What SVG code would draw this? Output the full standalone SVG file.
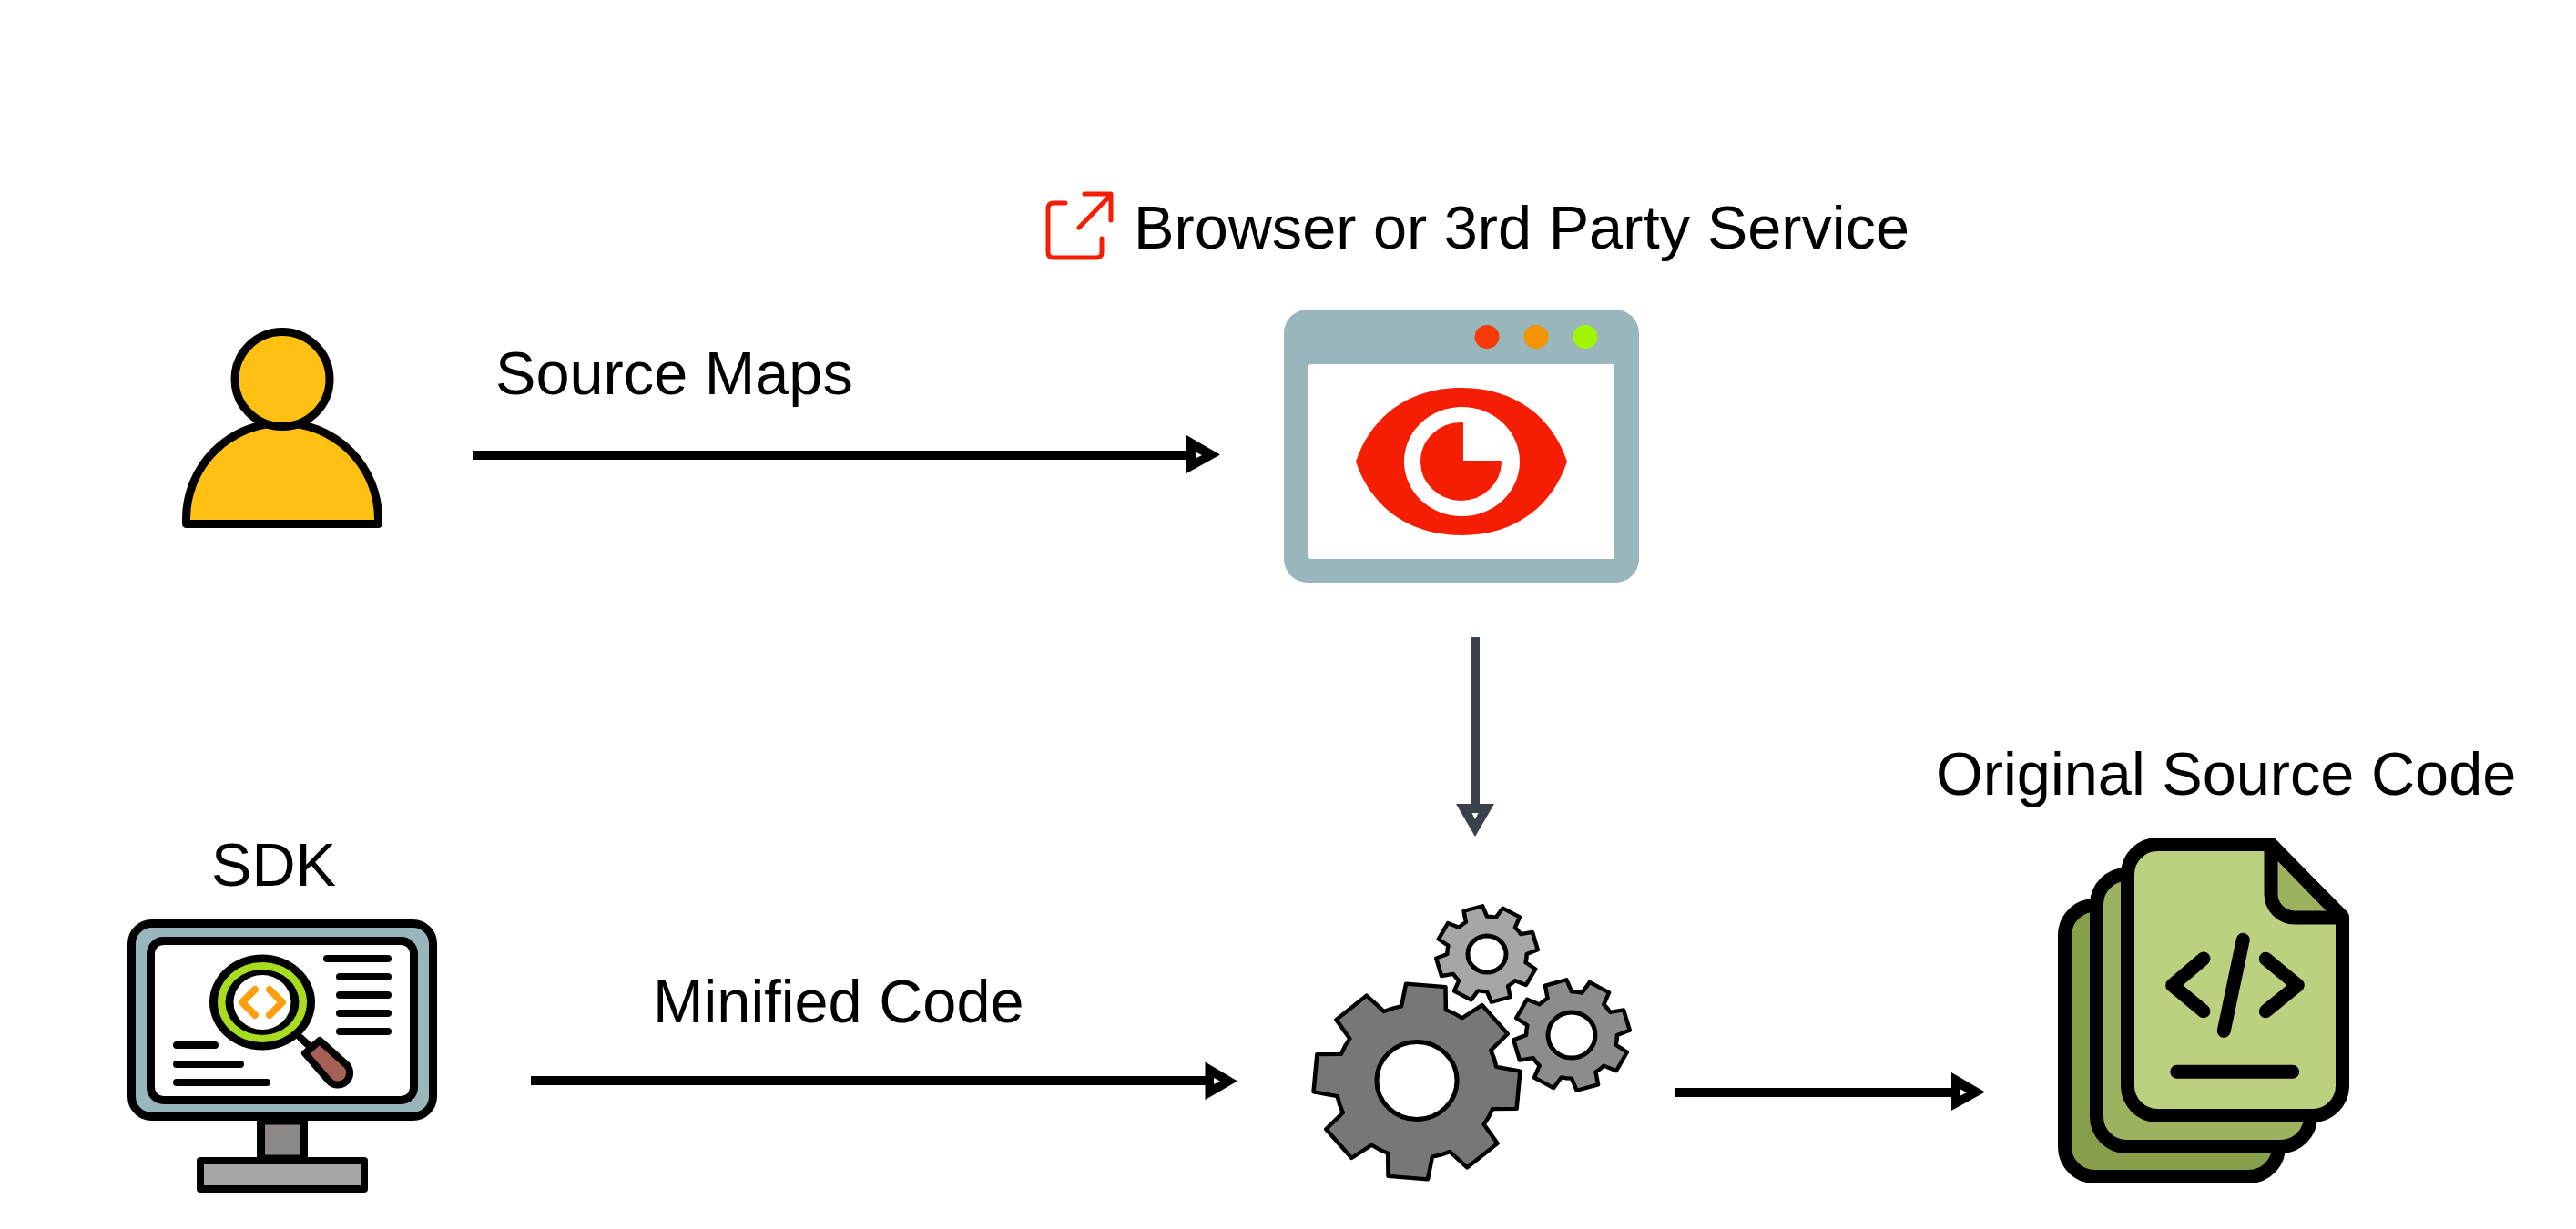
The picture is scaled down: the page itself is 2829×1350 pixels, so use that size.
<svg xmlns="http://www.w3.org/2000/svg" xmlns:xlink="http://www.w3.org/1999/xlink" width="2829" height="1350" viewBox="0 0 2829 1350">
<style>
text{font-family:"Liberation Sans",Arial,sans-serif;font-size:66.67px;fill:#000}
.k{stroke:#000;stroke-linecap:round;stroke-linejoin:round;fill:none}
.gear{stroke:#000;stroke-linejoin:round}
.hole{fill:#fff;stroke:#000;stroke-width:5}
</style>
<defs>
<path id="gearShape" d="M-21.5-75L-19.1-98.2L19.1-98.2L21.5-75A78 78 0 0 1 37.8-68.2L55.9-82.9L82.9-55.9L68.2-37.8A78 78 0 0 1 75-21.5L98.2-19.1L98.2 19.1L75 21.5A78 78 0 0 1 68.2 37.8L82.9 55.9L55.9 82.9L37.8 68.2A78 78 0 0 1 21.5 75L19.1 98.2L-19.1 98.2L-21.5 75A78 78 0 0 1-37.8 68.2L-55.9 82.9L-82.9 55.9L-68.2 37.8A78 78 0 0 1-75 21.5L-98.2 19.1L-98.2-19.1L-75-21.5A78 78 0 0 1-68.2-37.8L-82.9-55.9L-55.9-82.9L-37.8-68.2A78 78 0 0 1-21.5-75Z"/>
</defs>
<rect width="2829" height="1350" fill="#fff"/>
<g id="connectors">
<path d="M520 500H1305" stroke="#000" stroke-width="10"/>
<path d="M1303 478L1340 499.500L1303 520Z M1313 496.500V503.500L1320 500Z" fill="#000" fill-rule="evenodd"/>
<path d="M583 1187H1325" stroke="#000" stroke-width="10"/>
<path d="M1323.500 1166.500L1359 1187.500L1323.500 1208Z M1333 1184V1191L1340 1187.500Z" fill="#000" fill-rule="evenodd"/>
<path d="M1840 1200H2145" stroke="#000" stroke-width="10"/>
<path d="M2143 1178L2180 1199.500L2143 1220Z M2153 1196.500V1203.500L2160 1200Z" fill="#000" fill-rule="evenodd"/>
<path d="M1620 700V885" stroke="#3a414c" stroke-width="10"/>
<path d="M1599 883H1641L1620 919Z M1616.500 893H1623.500L1620 900Z" fill="#3a414c" fill-rule="evenodd"/>
</g>
<g id="user">
<path d="M204.500 575.500V570A105.500 105.500 0 0 1 415.500 570V575.500Z" fill="#ffc014" stroke="#000" stroke-width="9" stroke-linejoin="round"/>
<circle cx="310" cy="416.500" r="52" fill="#ffc014" stroke="#000" stroke-width="9"/>
</g>
<g id="label-source-maps"><text x="544" y="433">Source Maps</text></g>
<g id="service">
<path d="M1170 223H1157Q1151 223 1151 229V277Q1151 283 1157 283H1204Q1210 283 1210 277V262M1191 213H1220V242M1220 214L1185 250" fill="none" stroke="#f51e05" stroke-width="5" stroke-linecap="round" stroke-linejoin="round"/>
<text x="1245" y="273">Browser or 3rd Party Service</text>
<rect x="1410" y="340" width="390" height="300" rx="26" fill="#9ab6bd"/>
<rect x="1437" y="400" width="336" height="214" rx="3" fill="#fff"/>
<ellipse cx="1633" cy="370" rx="13.500" ry="13" fill="#f83a08"/>
<ellipse cx="1687" cy="370" rx="13.500" ry="13" fill="#f59402"/>
<ellipse cx="1741" cy="370" rx="13.500" ry="13" fill="#a2f502"/>
<path d="M1489 507C1505 459 1545 426 1605 426C1665 426 1705 459 1721 507C1705 555 1665 588 1605 588C1545 588 1505 555 1489 507Z" fill="#f51e02"/>
<ellipse cx="1605.500" cy="507" rx="63.500" ry="60" fill="#fff"/>
<path d="M1606 465V507H1648A43.500 42 0 1 1 1606 465Z" fill="#f51e02" stroke="#f51e02" stroke-width="2" stroke-linejoin="round"/>
</g>
<g id="sdk">
<text x="232" y="973">SDK</text>
<rect x="286.500" y="1231" width="47" height="42" fill="#8c8888" stroke="#000" stroke-width="9"/>
<rect x="220" y="1275" width="180" height="31" fill="#a6a6a6" stroke="#000" stroke-width="8" stroke-linejoin="round"/>
<rect x="144.500" y="1014.500" width="331" height="212" rx="22" fill="#9ab6bd" stroke="#000" stroke-width="9"/>
<rect x="165.500" y="1033.500" width="289" height="175" rx="14" fill="#fff" stroke="#000" stroke-width="9"/>
<ellipse cx="288" cy="1101" rx="58" ry="52.500" fill="#000"/>
<ellipse cx="288" cy="1101" rx="49" ry="44" fill="#a8dc1e"/>
<ellipse cx="288" cy="1101" rx="40.500" ry="36" fill="#000"/>
<ellipse cx="288" cy="1101" rx="31.500" ry="30" fill="#fff"/>
<path d="M280 1087L266 1101L280 1115M296 1087L310 1101L296 1115" fill="none" stroke="#ff9f10" stroke-width="8" stroke-linecap="round" stroke-linejoin="round"/>
<path class="k" stroke-width="8" d="M330 1140L343 1152"/>
<path d="M335 1157L351 1143L381 1170A13 13 0 0 1 361 1187Z" fill="#a56157" stroke="#000" stroke-width="8" stroke-linejoin="round"/>
<path class="k" stroke-width="8" d="M359 1053H426M373 1073H426M373 1093H426M373 1113H426M373 1133H426M194 1148H236M194 1169H264M194 1189H293"/>
</g>
<g id="label-minified"><text x="717" y="1123">Minified Code</text></g>
<g id="gears">
<use xlink:href="#gearShape" href="#gearShape" class="gear" fill="#a6a6a6" stroke-width="8" transform="translate(1633 1048) scale(.56 .53) rotate(-16)"/>
<ellipse class="hole" cx="1633" cy="1048" rx="21" ry="20"/>
<use xlink:href="#gearShape" href="#gearShape" class="gear" fill="#8c8c8c" stroke-width="7" transform="translate(1726 1137) scale(.64 .61) rotate(-16)"/>
<ellipse class="hole" cx="1726" cy="1137" rx="26" ry="25"/>
<use xlink:href="#gearShape" href="#gearShape" class="gear" fill="#777" stroke-width="4" transform="translate(1556 1188) scale(1.14 1.08) rotate(5)"/>
<ellipse class="hole" cx="1556" cy="1187" rx="44" ry="42.500"/>
</g>
<g id="original-source">
<text x="2126" y="873">Original Source Code</text>
<rect x="2267.500" y="994.500" width="235" height="298" rx="33" fill="#879e4b" stroke="#000" stroke-width="15"/>
<rect x="2302.500" y="960.500" width="235" height="299" rx="33" fill="#9db25f" stroke="#000" stroke-width="15"/>
<path d="M2370 927.500H2494L2572.500 1007V1192A33 33 0 0 1 2539.500 1225.500H2370A33 33 0 0 1 2336.500 1192V961A33 33 0 0 1 2370 927.500Z" fill="#bbd17f" stroke="#000" stroke-width="15" stroke-linejoin="round"/>
<path d="M2494 927.500V982A26 26 0 0 0 2520 1008H2572.500Z" fill="#9db25f" stroke="#000" stroke-width="15" stroke-linejoin="round"/>
<path class="k" stroke-width="15" d="M2420 1053L2385.700 1082.300L2420 1110.700M2488.300 1053.300L2523.300 1082.300L2488.300 1110.700M2463.300 1032.300L2442.300 1132.300M2390.700 1177.300H2517.700"/>
</g>
</svg>
